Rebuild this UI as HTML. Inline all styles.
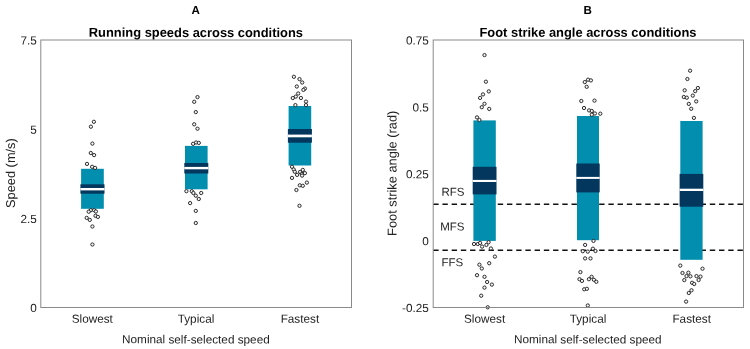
<!DOCTYPE html>
<html><head><meta charset="utf-8"><title>Figure</title>
<style>
html,body{margin:0;padding:0;background:#fff;}
body{width:750px;height:349px;position:relative;overflow:hidden;font-family:"Liberation Sans",sans-serif;}
</style></head><body>
<svg width="750" height="349" viewBox="0 0 750 349" style="position:absolute;left:0;top:0;will-change:transform" font-family="Liberation Sans, sans-serif">
<line x1="433.2" y1="204.3" x2="743.5" y2="204.3" stroke="#111" stroke-width="1.4" stroke-dasharray="5.4 3.82"/>
<line x1="433.2" y1="250.3" x2="743.5" y2="250.3" stroke="#111" stroke-width="1.4" stroke-dasharray="5.4 3.82"/>
<rect x="81.1" y="168.8" width="22.70" height="40.00" fill="#028eae"/>
<rect x="80.39999999999999" y="184.3" width="24.10" height="9.40" fill="#03375d"/>
<rect x="80.39999999999999" y="188.0" width="24.10" height="2.40" fill="#fff"/>
<rect x="185.0" y="145.9" width="22.60" height="43.40" fill="#028eae"/>
<rect x="184.3" y="163.0" width="24.00" height="10.50" fill="#03375d"/>
<rect x="184.3" y="166.9" width="24.00" height="2.40" fill="#fff"/>
<rect x="288.6" y="106.0" width="22.60" height="59.50" fill="#028eae"/>
<rect x="287.90000000000003" y="129.0" width="24.00" height="13.70" fill="#03375d"/>
<rect x="287.90000000000003" y="134.6" width="24.00" height="2.70" fill="#fff"/>
<rect x="473.4" y="120.4" width="22.40" height="120.50" fill="#028eae"/>
<rect x="472.7" y="166.8" width="23.80" height="27.60" fill="#03375d"/>
<rect x="472.7" y="179.9" width="23.80" height="2.10" fill="#fff"/>
<rect x="577.0" y="116.0" width="22.00" height="124.20" fill="#028eae"/>
<rect x="576.3" y="163.5" width="23.40" height="28.90" fill="#03375d"/>
<rect x="576.3" y="176.9" width="23.40" height="2.00" fill="#fff"/>
<rect x="680.3" y="121.0" width="22.30" height="138.80" fill="#028eae"/>
<rect x="679.5999999999999" y="173.9" width="23.70" height="32.80" fill="#03375d"/>
<rect x="679.5999999999999" y="188.7" width="23.70" height="2.30" fill="#fff"/>
<circle cx="93.9" cy="121.8" r="1.65" fill="#f4f4f4" stroke="#1a1a1a" stroke-width="0.9"/>
<circle cx="90.9" cy="126.7" r="1.65" fill="#f4f4f4" stroke="#1a1a1a" stroke-width="0.9"/>
<circle cx="92.4" cy="143.6" r="1.65" fill="#f4f4f4" stroke="#1a1a1a" stroke-width="0.9"/>
<circle cx="90.8" cy="153.0" r="1.65" fill="#f4f4f4" stroke="#1a1a1a" stroke-width="0.9"/>
<circle cx="94.1" cy="155.1" r="1.65" fill="#f4f4f4" stroke="#1a1a1a" stroke-width="0.9"/>
<circle cx="87" cy="163.9" r="1.65" fill="#f4f4f4" stroke="#1a1a1a" stroke-width="0.9"/>
<circle cx="92.1" cy="166.8" r="1.65" fill="#f4f4f4" stroke="#1a1a1a" stroke-width="0.9"/>
<circle cx="95.1" cy="167.9" r="1.65" fill="#f4f4f4" stroke="#1a1a1a" stroke-width="0.9"/>
<circle cx="90.8" cy="210.2" r="1.65" fill="#f4f4f4" stroke="#1a1a1a" stroke-width="0.9"/>
<circle cx="88.7" cy="211.7" r="1.65" fill="#f4f4f4" stroke="#1a1a1a" stroke-width="0.9"/>
<circle cx="94.1" cy="210.2" r="1.65" fill="#f4f4f4" stroke="#1a1a1a" stroke-width="0.9"/>
<circle cx="95.9" cy="211.5" r="1.65" fill="#f4f4f4" stroke="#1a1a1a" stroke-width="0.9"/>
<circle cx="95.5" cy="215.8" r="1.65" fill="#f4f4f4" stroke="#1a1a1a" stroke-width="0.9"/>
<circle cx="97.9" cy="216.9" r="1.65" fill="#f4f4f4" stroke="#1a1a1a" stroke-width="0.9"/>
<circle cx="86.7" cy="217.9" r="1.65" fill="#f4f4f4" stroke="#1a1a1a" stroke-width="0.9"/>
<circle cx="89.8" cy="219.9" r="1.65" fill="#f4f4f4" stroke="#1a1a1a" stroke-width="0.9"/>
<circle cx="92.4" cy="226.5" r="1.65" fill="#f4f4f4" stroke="#1a1a1a" stroke-width="0.9"/>
<circle cx="92.4" cy="244.5" r="1.65" fill="#f4f4f4" stroke="#1a1a1a" stroke-width="0.9"/>
<circle cx="197.5" cy="97.1" r="1.65" fill="#f4f4f4" stroke="#1a1a1a" stroke-width="0.9"/>
<circle cx="194.2" cy="101.8" r="1.65" fill="#f4f4f4" stroke="#1a1a1a" stroke-width="0.9"/>
<circle cx="195.8" cy="112.1" r="1.65" fill="#f4f4f4" stroke="#1a1a1a" stroke-width="0.9"/>
<circle cx="194.2" cy="124.3" r="1.65" fill="#f4f4f4" stroke="#1a1a1a" stroke-width="0.9"/>
<circle cx="197.5" cy="128.7" r="1.65" fill="#f4f4f4" stroke="#1a1a1a" stroke-width="0.9"/>
<circle cx="193.1" cy="143.8" r="1.65" fill="#f4f4f4" stroke="#1a1a1a" stroke-width="0.9"/>
<circle cx="196.1" cy="142.5" r="1.65" fill="#f4f4f4" stroke="#1a1a1a" stroke-width="0.9"/>
<circle cx="198.8" cy="142.9" r="1.65" fill="#f4f4f4" stroke="#1a1a1a" stroke-width="0.9"/>
<circle cx="186.4" cy="191.2" r="1.65" fill="#f4f4f4" stroke="#1a1a1a" stroke-width="0.9"/>
<circle cx="191.8" cy="191.2" r="1.65" fill="#f4f4f4" stroke="#1a1a1a" stroke-width="0.9"/>
<circle cx="193.4" cy="193" r="1.65" fill="#f4f4f4" stroke="#1a1a1a" stroke-width="0.9"/>
<circle cx="195.8" cy="195.7" r="1.65" fill="#f4f4f4" stroke="#1a1a1a" stroke-width="0.9"/>
<circle cx="198.8" cy="199" r="1.65" fill="#f4f4f4" stroke="#1a1a1a" stroke-width="0.9"/>
<circle cx="201.2" cy="193" r="1.65" fill="#f4f4f4" stroke="#1a1a1a" stroke-width="0.9"/>
<circle cx="190.1" cy="203.1" r="1.65" fill="#f4f4f4" stroke="#1a1a1a" stroke-width="0.9"/>
<circle cx="195.8" cy="210.9" r="1.65" fill="#f4f4f4" stroke="#1a1a1a" stroke-width="0.9"/>
<circle cx="195.8" cy="223" r="1.65" fill="#f4f4f4" stroke="#1a1a1a" stroke-width="0.9"/>
<circle cx="293.9" cy="76.8" r="1.65" fill="#f4f4f4" stroke="#1a1a1a" stroke-width="0.9"/>
<circle cx="299.5" cy="79.1" r="1.65" fill="#f4f4f4" stroke="#1a1a1a" stroke-width="0.9"/>
<circle cx="302.2" cy="82.5" r="1.65" fill="#f4f4f4" stroke="#1a1a1a" stroke-width="0.9"/>
<circle cx="296.8" cy="86.5" r="1.65" fill="#f4f4f4" stroke="#1a1a1a" stroke-width="0.9"/>
<circle cx="304.9" cy="88.6" r="1.65" fill="#f4f4f4" stroke="#1a1a1a" stroke-width="0.9"/>
<circle cx="303.4" cy="89.9" r="1.65" fill="#f4f4f4" stroke="#1a1a1a" stroke-width="0.9"/>
<circle cx="298.2" cy="93.5" r="1.65" fill="#f4f4f4" stroke="#1a1a1a" stroke-width="0.9"/>
<circle cx="295.8" cy="96.6" r="1.65" fill="#f4f4f4" stroke="#1a1a1a" stroke-width="0.9"/>
<circle cx="292.8" cy="98" r="1.65" fill="#f4f4f4" stroke="#1a1a1a" stroke-width="0.9"/>
<circle cx="300.9" cy="98" r="1.65" fill="#f4f4f4" stroke="#1a1a1a" stroke-width="0.9"/>
<circle cx="306" cy="101.6" r="1.65" fill="#f4f4f4" stroke="#1a1a1a" stroke-width="0.9"/>
<circle cx="295.4" cy="105.1" r="1.65" fill="#f4f4f4" stroke="#1a1a1a" stroke-width="0.9"/>
<circle cx="306" cy="105.1" r="1.65" fill="#f4f4f4" stroke="#1a1a1a" stroke-width="0.9"/>
<circle cx="292" cy="166.8" r="1.65" fill="#f4f4f4" stroke="#1a1a1a" stroke-width="0.9"/>
<circle cx="293.7" cy="169.5" r="1.65" fill="#f4f4f4" stroke="#1a1a1a" stroke-width="0.9"/>
<circle cx="294.8" cy="171.8" r="1.65" fill="#f4f4f4" stroke="#1a1a1a" stroke-width="0.9"/>
<circle cx="302.8" cy="169.9" r="1.65" fill="#f4f4f4" stroke="#1a1a1a" stroke-width="0.9"/>
<circle cx="300.1" cy="171.9" r="1.65" fill="#f4f4f4" stroke="#1a1a1a" stroke-width="0.9"/>
<circle cx="304.9" cy="173.1" r="1.65" fill="#f4f4f4" stroke="#1a1a1a" stroke-width="0.9"/>
<circle cx="301.8" cy="174" r="1.65" fill="#f4f4f4" stroke="#1a1a1a" stroke-width="0.9"/>
<circle cx="297.1" cy="174.9" r="1.65" fill="#f4f4f4" stroke="#1a1a1a" stroke-width="0.9"/>
<circle cx="302.1" cy="175.6" r="1.65" fill="#f4f4f4" stroke="#1a1a1a" stroke-width="0.9"/>
<circle cx="292" cy="177.9" r="1.65" fill="#f4f4f4" stroke="#1a1a1a" stroke-width="0.9"/>
<circle cx="306.9" cy="182.6" r="1.65" fill="#f4f4f4" stroke="#1a1a1a" stroke-width="0.9"/>
<circle cx="299.8" cy="185.3" r="1.65" fill="#f4f4f4" stroke="#1a1a1a" stroke-width="0.9"/>
<circle cx="302.8" cy="185.8" r="1.65" fill="#f4f4f4" stroke="#1a1a1a" stroke-width="0.9"/>
<circle cx="296.4" cy="190" r="1.65" fill="#f4f4f4" stroke="#1a1a1a" stroke-width="0.9"/>
<circle cx="299.5" cy="205.8" r="1.65" fill="#f4f4f4" stroke="#1a1a1a" stroke-width="0.9"/>
<circle cx="484.5" cy="55.1" r="1.65" fill="#f4f4f4" stroke="#1a1a1a" stroke-width="0.9"/>
<circle cx="485.9" cy="81.7" r="1.65" fill="#f4f4f4" stroke="#1a1a1a" stroke-width="0.9"/>
<circle cx="488.8" cy="91.4" r="1.65" fill="#f4f4f4" stroke="#1a1a1a" stroke-width="0.9"/>
<circle cx="483" cy="94.4" r="1.65" fill="#f4f4f4" stroke="#1a1a1a" stroke-width="0.9"/>
<circle cx="480.1" cy="97.9" r="1.65" fill="#f4f4f4" stroke="#1a1a1a" stroke-width="0.9"/>
<circle cx="484.5" cy="103.8" r="1.65" fill="#f4f4f4" stroke="#1a1a1a" stroke-width="0.9"/>
<circle cx="481.8" cy="107.2" r="1.65" fill="#f4f4f4" stroke="#1a1a1a" stroke-width="0.9"/>
<circle cx="489.2" cy="108.9" r="1.65" fill="#f4f4f4" stroke="#1a1a1a" stroke-width="0.9"/>
<circle cx="477" cy="117.4" r="1.65" fill="#f4f4f4" stroke="#1a1a1a" stroke-width="0.9"/>
<circle cx="479.4" cy="120" r="1.65" fill="#f4f4f4" stroke="#1a1a1a" stroke-width="0.9"/>
<circle cx="474" cy="244" r="1.65" fill="#f4f4f4" stroke="#1a1a1a" stroke-width="0.9"/>
<circle cx="477.8" cy="244" r="1.65" fill="#f4f4f4" stroke="#1a1a1a" stroke-width="0.9"/>
<circle cx="480.1" cy="242.9" r="1.65" fill="#f4f4f4" stroke="#1a1a1a" stroke-width="0.9"/>
<circle cx="482.1" cy="246.6" r="1.65" fill="#f4f4f4" stroke="#1a1a1a" stroke-width="0.9"/>
<circle cx="486.4" cy="244.9" r="1.65" fill="#f4f4f4" stroke="#1a1a1a" stroke-width="0.9"/>
<circle cx="488.6" cy="242.2" r="1.65" fill="#f4f4f4" stroke="#1a1a1a" stroke-width="0.9"/>
<circle cx="490.9" cy="248.5" r="1.65" fill="#f4f4f4" stroke="#1a1a1a" stroke-width="0.9"/>
<circle cx="494.9" cy="256.6" r="1.65" fill="#f4f4f4" stroke="#1a1a1a" stroke-width="0.9"/>
<circle cx="489.2" cy="263.2" r="1.65" fill="#f4f4f4" stroke="#1a1a1a" stroke-width="0.9"/>
<circle cx="479.4" cy="264.7" r="1.65" fill="#f4f4f4" stroke="#1a1a1a" stroke-width="0.9"/>
<circle cx="481.8" cy="268.5" r="1.65" fill="#f4f4f4" stroke="#1a1a1a" stroke-width="0.9"/>
<circle cx="477" cy="275.2" r="1.65" fill="#f4f4f4" stroke="#1a1a1a" stroke-width="0.9"/>
<circle cx="484.5" cy="276.8" r="1.65" fill="#f4f4f4" stroke="#1a1a1a" stroke-width="0.9"/>
<circle cx="487.1" cy="282" r="1.65" fill="#f4f4f4" stroke="#1a1a1a" stroke-width="0.9"/>
<circle cx="491.9" cy="284.6" r="1.65" fill="#f4f4f4" stroke="#1a1a1a" stroke-width="0.9"/>
<circle cx="484.5" cy="287.6" r="1.65" fill="#f4f4f4" stroke="#1a1a1a" stroke-width="0.9"/>
<circle cx="481.2" cy="295.7" r="1.65" fill="#f4f4f4" stroke="#1a1a1a" stroke-width="0.9"/>
<circle cx="487.7" cy="307.3" r="1.65" fill="#f4f4f4" stroke="#1a1a1a" stroke-width="0.9"/>
<circle cx="584.8" cy="82.1" r="1.65" fill="#f4f4f4" stroke="#1a1a1a" stroke-width="0.9"/>
<circle cx="588.1" cy="79.7" r="1.65" fill="#f4f4f4" stroke="#1a1a1a" stroke-width="0.9"/>
<circle cx="590.9" cy="80.4" r="1.65" fill="#f4f4f4" stroke="#1a1a1a" stroke-width="0.9"/>
<circle cx="586.7" cy="86.8" r="1.65" fill="#f4f4f4" stroke="#1a1a1a" stroke-width="0.9"/>
<circle cx="581.3" cy="101" r="1.65" fill="#f4f4f4" stroke="#1a1a1a" stroke-width="0.9"/>
<circle cx="594.5" cy="100.6" r="1.65" fill="#f4f4f4" stroke="#1a1a1a" stroke-width="0.9"/>
<circle cx="584" cy="108" r="1.65" fill="#f4f4f4" stroke="#1a1a1a" stroke-width="0.9"/>
<circle cx="589.1" cy="110.4" r="1.65" fill="#f4f4f4" stroke="#1a1a1a" stroke-width="0.9"/>
<circle cx="591.8" cy="111" r="1.65" fill="#f4f4f4" stroke="#1a1a1a" stroke-width="0.9"/>
<circle cx="594.9" cy="113.5" r="1.65" fill="#f4f4f4" stroke="#1a1a1a" stroke-width="0.9"/>
<circle cx="600.3" cy="113.7" r="1.65" fill="#f4f4f4" stroke="#1a1a1a" stroke-width="0.9"/>
<circle cx="591.8" cy="114.7" r="1.65" fill="#f4f4f4" stroke="#1a1a1a" stroke-width="0.9"/>
<circle cx="593.5" cy="240.9" r="1.65" fill="#f4f4f4" stroke="#1a1a1a" stroke-width="0.9"/>
<circle cx="585.1" cy="244.9" r="1.65" fill="#f4f4f4" stroke="#1a1a1a" stroke-width="0.9"/>
<circle cx="592.9" cy="248.7" r="1.65" fill="#f4f4f4" stroke="#1a1a1a" stroke-width="0.9"/>
<circle cx="595.5" cy="251" r="1.65" fill="#f4f4f4" stroke="#1a1a1a" stroke-width="0.9"/>
<circle cx="582.8" cy="251.2" r="1.65" fill="#f4f4f4" stroke="#1a1a1a" stroke-width="0.9"/>
<circle cx="587.8" cy="251.6" r="1.65" fill="#f4f4f4" stroke="#1a1a1a" stroke-width="0.9"/>
<circle cx="585.1" cy="258.4" r="1.65" fill="#f4f4f4" stroke="#1a1a1a" stroke-width="0.9"/>
<circle cx="590.5" cy="258.4" r="1.65" fill="#f4f4f4" stroke="#1a1a1a" stroke-width="0.9"/>
<circle cx="580.4" cy="272.1" r="1.65" fill="#f4f4f4" stroke="#1a1a1a" stroke-width="0.9"/>
<circle cx="579.5" cy="279.2" r="1.65" fill="#f4f4f4" stroke="#1a1a1a" stroke-width="0.9"/>
<circle cx="582" cy="280.9" r="1.65" fill="#f4f4f4" stroke="#1a1a1a" stroke-width="0.9"/>
<circle cx="588.9" cy="279.2" r="1.65" fill="#f4f4f4" stroke="#1a1a1a" stroke-width="0.9"/>
<circle cx="591.6" cy="276.8" r="1.65" fill="#f4f4f4" stroke="#1a1a1a" stroke-width="0.9"/>
<circle cx="593.9" cy="279.8" r="1.65" fill="#f4f4f4" stroke="#1a1a1a" stroke-width="0.9"/>
<circle cx="596.3" cy="281.8" r="1.65" fill="#f4f4f4" stroke="#1a1a1a" stroke-width="0.9"/>
<circle cx="584.2" cy="289.3" r="1.65" fill="#f4f4f4" stroke="#1a1a1a" stroke-width="0.9"/>
<circle cx="586.9" cy="288.8" r="1.65" fill="#f4f4f4" stroke="#1a1a1a" stroke-width="0.9"/>
<circle cx="587.8" cy="305.5" r="1.65" fill="#f4f4f4" stroke="#1a1a1a" stroke-width="0.9"/>
<circle cx="690.1" cy="70.7" r="1.65" fill="#f4f4f4" stroke="#1a1a1a" stroke-width="0.9"/>
<circle cx="687.4" cy="79" r="1.65" fill="#f4f4f4" stroke="#1a1a1a" stroke-width="0.9"/>
<circle cx="684.7" cy="90.3" r="1.65" fill="#f4f4f4" stroke="#1a1a1a" stroke-width="0.9"/>
<circle cx="697.9" cy="88" r="1.65" fill="#f4f4f4" stroke="#1a1a1a" stroke-width="0.9"/>
<circle cx="695.2" cy="91.1" r="1.65" fill="#f4f4f4" stroke="#1a1a1a" stroke-width="0.9"/>
<circle cx="692.8" cy="95.6" r="1.65" fill="#f4f4f4" stroke="#1a1a1a" stroke-width="0.9"/>
<circle cx="683.8" cy="97" r="1.65" fill="#f4f4f4" stroke="#1a1a1a" stroke-width="0.9"/>
<circle cx="686.8" cy="97.7" r="1.65" fill="#f4f4f4" stroke="#1a1a1a" stroke-width="0.9"/>
<circle cx="696.2" cy="101.4" r="1.65" fill="#f4f4f4" stroke="#1a1a1a" stroke-width="0.9"/>
<circle cx="688.8" cy="103.9" r="1.65" fill="#f4f4f4" stroke="#1a1a1a" stroke-width="0.9"/>
<circle cx="691.2" cy="108.8" r="1.65" fill="#f4f4f4" stroke="#1a1a1a" stroke-width="0.9"/>
<circle cx="693.9" cy="117.9" r="1.65" fill="#f4f4f4" stroke="#1a1a1a" stroke-width="0.9"/>
<circle cx="680.3" cy="265.6" r="1.65" fill="#f4f4f4" stroke="#1a1a1a" stroke-width="0.9"/>
<circle cx="702.5" cy="268.7" r="1.65" fill="#f4f4f4" stroke="#1a1a1a" stroke-width="0.9"/>
<circle cx="682.5" cy="273" r="1.65" fill="#f4f4f4" stroke="#1a1a1a" stroke-width="0.9"/>
<circle cx="688.4" cy="272.7" r="1.65" fill="#f4f4f4" stroke="#1a1a1a" stroke-width="0.9"/>
<circle cx="686.5" cy="276.1" r="1.65" fill="#f4f4f4" stroke="#1a1a1a" stroke-width="0.9"/>
<circle cx="690.4" cy="276.3" r="1.65" fill="#f4f4f4" stroke="#1a1a1a" stroke-width="0.9"/>
<circle cx="696.5" cy="276.1" r="1.65" fill="#f4f4f4" stroke="#1a1a1a" stroke-width="0.9"/>
<circle cx="700.5" cy="276.6" r="1.65" fill="#f4f4f4" stroke="#1a1a1a" stroke-width="0.9"/>
<circle cx="684.3" cy="280.1" r="1.65" fill="#f4f4f4" stroke="#1a1a1a" stroke-width="0.9"/>
<circle cx="698.6" cy="280" r="1.65" fill="#f4f4f4" stroke="#1a1a1a" stroke-width="0.9"/>
<circle cx="692.1" cy="282.8" r="1.65" fill="#f4f4f4" stroke="#1a1a1a" stroke-width="0.9"/>
<circle cx="694.2" cy="284" r="1.65" fill="#f4f4f4" stroke="#1a1a1a" stroke-width="0.9"/>
<circle cx="691.5" cy="290.3" r="1.65" fill="#f4f4f4" stroke="#1a1a1a" stroke-width="0.9"/>
<circle cx="688.8" cy="293" r="1.65" fill="#f4f4f4" stroke="#1a1a1a" stroke-width="0.9"/>
<circle cx="686.1" cy="301.6" r="1.65" fill="#f4f4f4" stroke="#1a1a1a" stroke-width="0.9"/>
<rect x="40.8" y="40" width="310.7" height="267.5" fill="none" stroke="#8a8a8a" stroke-width="1"/>
<rect x="433.2" y="40" width="310.3" height="267.5" fill="none" stroke="#8a8a8a" stroke-width="1"/>
<text x="195.8" y="13.9" font-size="11.6" text-anchor="middle" font-weight="bold" fill="#000" transform="rotate(0.03 195.8 13.9)">A</text>
<text x="195.9" y="36.9" font-size="12.9" text-anchor="middle" font-weight="bold" fill="#000" transform="rotate(0.03 195.9 36.9)">Running speeds across conditions</text>
<text x="587.7" y="13.9" font-size="11.6" text-anchor="middle" font-weight="bold" fill="#000" transform="rotate(0.03 587.7 13.9)">B</text>
<text x="588.0" y="36.8" font-size="12.9" text-anchor="middle" font-weight="bold" fill="#000" transform="rotate(0.03 588.0 36.8)">Foot strike angle across conditions</text>
<text x="36.9" y="44.6" font-size="11.75" text-anchor="end" fill="#222" transform="rotate(0.03 36.9 44.6)">7.5</text>
<text x="36.9" y="133.76666666666668" font-size="11.75" text-anchor="end" fill="#222" transform="rotate(0.03 36.9 133.76666666666668)">5</text>
<text x="36.9" y="222.93333333333334" font-size="11.75" text-anchor="end" fill="#222" transform="rotate(0.03 36.9 222.93333333333334)">2.5</text>
<text x="36.9" y="312.1" font-size="11.75" text-anchor="end" fill="#222" transform="rotate(0.03 36.9 312.1)">0</text>
<text x="428.8" y="44.6" font-size="11.75" text-anchor="end" fill="#222" transform="rotate(0.03 428.8 44.6)">0.75</text>
<text x="428.8" y="111.475" font-size="11.75" text-anchor="end" fill="#222" transform="rotate(0.03 428.8 111.475)">0.5</text>
<text x="428.8" y="178.35" font-size="11.75" text-anchor="end" fill="#222" transform="rotate(0.03 428.8 178.35)">0.25</text>
<text x="428.8" y="245.225" font-size="11.75" text-anchor="end" fill="#222" transform="rotate(0.03 428.8 245.225)">0</text>
<text x="428.8" y="312.1" font-size="11.75" text-anchor="end" fill="#222" transform="rotate(0.03 428.8 312.1)">-0.25</text>
<text x="92.3" y="322.7" font-size="11.75" text-anchor="middle" fill="#222" transform="rotate(0.03 92.3 322.7)">Slowest</text>
<text x="196.0" y="322.7" font-size="11.75" text-anchor="middle" fill="#222" transform="rotate(0.03 196.0 322.7)">Typical</text>
<text x="299.9" y="322.7" font-size="11.75" text-anchor="middle" fill="#222" transform="rotate(0.03 299.9 322.7)">Fastest</text>
<text x="484.59999999999997" y="322.7" font-size="11.75" text-anchor="middle" fill="#222" transform="rotate(0.03 484.59999999999997 322.7)">Slowest</text>
<text x="588.0" y="322.7" font-size="11.75" text-anchor="middle" fill="#222" transform="rotate(0.03 588.0 322.7)">Typical</text>
<text x="691.7" y="322.7" font-size="11.75" text-anchor="middle" fill="#222" transform="rotate(0.03 691.7 322.7)">Fastest</text>
<text x="195.9" y="343.4" font-size="11.75" text-anchor="middle" fill="#222" transform="rotate(0.03 195.9 343.4)">Nominal self-selected speed</text>
<text x="587.8" y="343.4" font-size="11.75" text-anchor="middle" fill="#222" transform="rotate(0.03 587.8 343.4)">Nominal self-selected speed</text>
<text x="441.4" y="195.7" font-size="11.5" text-anchor="start" fill="#222" transform="rotate(0.03 441.4 195.7)">RFS</text>
<text x="440.2" y="230.5" font-size="11.5" text-anchor="start" fill="#222" transform="rotate(0.03 440.2 230.5)">MFS</text>
<text x="441.4" y="266.2" font-size="11.5" text-anchor="start" fill="#222" transform="rotate(0.03 441.4 266.2)">FFS</text>
<text x="15.0" y="173.1" font-size="12.8" text-anchor="middle" fill="#222" transform="rotate(-90.03 15.0 173.1)">Speed (m/s)</text>
<text x="396.5" y="173.3" font-size="12.8" text-anchor="middle" fill="#222" transform="rotate(-90.03 396.5 173.3)">Foot strike angle (rad)</text>
</svg>
</body></html>
